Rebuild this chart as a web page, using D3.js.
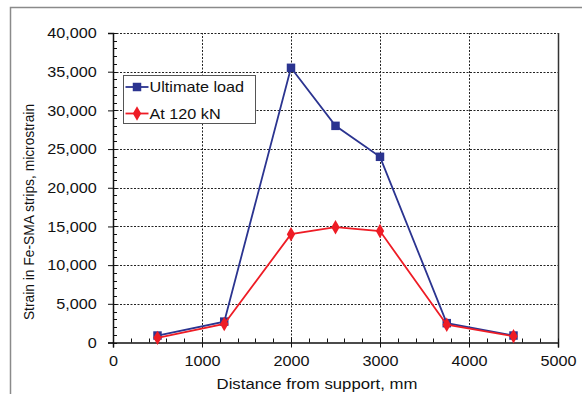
<!DOCTYPE html>
<html>
<head>
<meta charset="utf-8">
<script src="https://cdn.jsdelivr.net/npm/d3@7"></script>
<style>
  body { margin: 0; background: #fff; }
  svg text { font-family: "Liberation Sans", Arial, sans-serif; fill: #111; }
</style>
</head>
<body>
<svg id="chart" width="582" height="394"></svg>
<script>
// Data
let distances = [500, 1250, 2000, 2500, 3000, 3750, 4500];
let ultimateLoad = [900, 2700, 35500, 28000, 24000, 2500, 900];
let at120kN = [600, 2400, 14000, 14900, 14400, 2300, 800];
let xTicks = [0, 1000, 2000, 3000, 4000, 5000];
let yTicks = [0, 5000, 10000, 15000, 20000, 25000, 30000, 35000, 40000];

let width = 582;
let height = 394;
let margin = { left: 113, right: 24, top: 33, bottom: 51.5 };

let blue = "#2b3490";
let red = "#ee1c25";
let stretch = 1.08; // the original text is slightly wide

let svg = d3.select("#chart");

// outer frame (only top and left visible)
svg.append("path")
    .attr("d", `M10.5,${height} L10.5,7.5 L${width},7.5`)
    .attr("fill", "none")
    .attr("stroke", "#8a8a8a")
    .attr("stroke-width", 1.5);

let x = d3.scaleLinear().domain([0, 5000]).range([margin.left, width - margin.right]);
let y = d3.scaleLinear().domain([0, 40000]).range([height - margin.bottom, margin.top]);

// gridlines
svg.append("g")
    .selectAll("line")
    .data(yTicks.filter((d) => d > 0))
    .join("line")
    .attr("x1", x(0))
    .attr("x2", x(5000))
    .attr("y1", (d) => Math.round(y(d)) + 0.5)
    .attr("y2", (d) => Math.round(y(d)) + 0.5)
    .attr("stroke", "#222")
    .attr("stroke-dasharray", "2,1.5");

svg.append("g")
    .selectAll("line")
    .data(xTicks.filter((d) => d > 0 && d < 5000))
    .join("line")
    .attr("x1", (d) => Math.round(x(d)) + 0.5)
    .attr("x2", (d) => Math.round(x(d)) + 0.5)
    .attr("y1", y(0))
    .attr("y2", y(40000))
    .attr("stroke", "#222")
    .attr("stroke-dasharray", "2,1.5");

// right border
svg.append("line")
    .attr("x1", x(5000) + 0.5)
    .attr("x2", x(5000) + 0.5)
    .attr("y1", y(40000))
    .attr("y2", y(0))
    .attr("stroke", "#333")
    .attr("stroke-width", 1.5);

// minor ticks (inside)
let xMinor = d3.range(0, 5001, 200);
svg.append("g")
    .selectAll("line")
    .data(xMinor)
    .join("line")
    .attr("x1", (d) => Math.round(x(d)) + 0.5)
    .attr("x2", (d) => Math.round(x(d)) + 0.5)
    .attr("y1", y(0))
    .attr("y2", y(0) - 4)
    .attr("stroke", "#111");

let yMinor = d3.range(0, 40001, 1000);
svg.append("g")
    .selectAll("line")
    .data(yMinor)
    .join("line")
    .attr("x1", x(0))
    .attr("x2", x(0) + 4)
    .attr("y1", (d) => Math.round(y(d)) + 0.5)
    .attr("y2", (d) => Math.round(y(d)) + 0.5)
    .attr("stroke", "#111");

// axes
let xAxis = svg.append("g")
    .attr("transform", `translate(0,${y(0)})`)
    .call(d3.axisBottom(x).tickValues(xTicks).tickFormat(d3.format("d")).tickSize(5).tickPadding(8));
let yAxis = svg.append("g")
    .attr("transform", `translate(${x(0)},0)`)
    .call(d3.axisLeft(y).tickValues(yTicks).tickFormat(d3.format(",")).tickSize(5).tickPadding(10));

[xAxis, yAxis].forEach((g) => {
    g.select(".domain").attr("stroke", "#111").attr("stroke-width", 1.5);
    g.selectAll(".tick line").attr("stroke", "#111");
    g.selectAll(".tick text")
        .style("font-size", "15px")
        .style("font-family", "Liberation Sans, Arial, sans-serif")
        .attr("fill", "#111")
        .attr("transform", `scale(${stretch},1)`);
});

// axis titles
svg.append("text")
    .attr("transform", `translate(317,389) scale(${stretch},1)`)
    .attr("text-anchor", "middle")
    .style("font-size", "15.5px")
    .text("Distance from support, mm");

svg.append("text")
    .attr("transform", `translate(34,212) rotate(-90) scale(1,${stretch})`)
    .attr("text-anchor", "middle")
    .style("font-size", "13.8px")
    .text("Strain in Fe-SMA strips, microstrain");

// series
let series = [
    { name: "Ultimate load", values: ultimateLoad, color: blue, symbol: d3.symbolSquare, size: 72 },
    { name: "At 120 kN", values: at120kN, color: red, symbol: d3.symbolDiamond, size: 60 },
];

let line = d3.line()
    .x((d) => x(d[0]))
    .y((d) => y(d[1]));

series.forEach((s) => {
    let pts = distances.map((d, i) => [d, s.values[i]]);
    svg.append("path")
        .datum(pts)
        .attr("d", line)
        .attr("fill", "none")
        .attr("stroke", s.color)
        .attr("stroke-width", 1.8);
    svg.append("g")
        .selectAll("path")
        .data(pts)
        .join("path")
        .attr("transform", (d) => `translate(${x(d[0])},${y(d[1])})`)
        .attr("d", d3.symbol().type(s.symbol).size(s.size))
        .attr("fill", s.color);
});

// legend
let legend = svg.append("g").attr("transform", "translate(123.5,75.5)");
legend.append("rect")
    .attr("width", 132)
    .attr("height", 48)
    .attr("fill", "#fff")
    .attr("stroke", "#555")
    .attr("stroke-width", 1);

series.forEach((s, i) => {
    let ly = 11.5 + i * 26.5;
    legend.append("line")
        .attr("x1", 2)
        .attr("x2", 25)
        .attr("y1", ly)
        .attr("y2", ly)
        .attr("stroke", s.color)
        .attr("stroke-width", 1.8);
    legend.append("path")
        .attr("transform", `translate(13.5,${ly})`)
        .attr("d", d3.symbol().type(s.symbol).size(s.size))
        .attr("fill", s.color);
    legend.append("text")
        .attr("transform", `translate(26,${ly + 5}) scale(${stretch},1)`)
        .style("font-size", "15px")
        .text(s.name);
});
</script>
</body>
</html>
